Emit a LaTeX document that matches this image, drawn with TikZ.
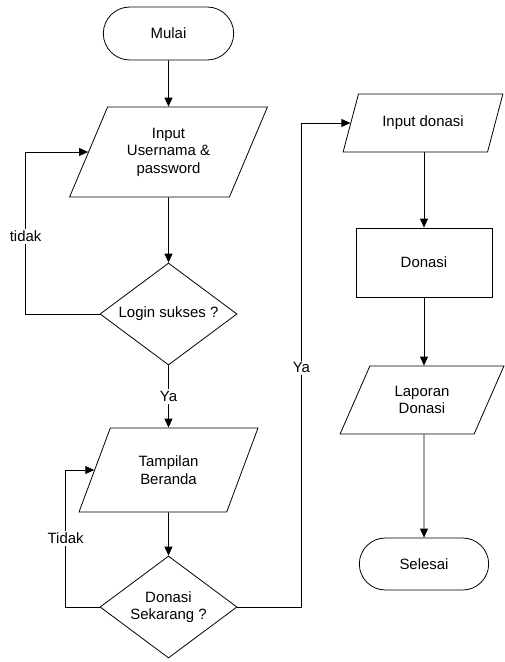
\documentclass[tikz,border=0pt]{standalone}
\usepackage{fontspec}
\setmainfont{Liberation Sans}
\usetikzlibrary{shapes.geometric,shapes.misc,arrows.meta}

\begin{document}
\begin{tikzpicture}[
		x=1bp,y=-1bp,
		every node/.style={
			font=\fontsize{15}{17.5}\selectfont,
			align=center,
		},
		term/.style={
			draw,
			rounded rectangle,
			minimum width=137bp,
			minimum height=53bp,
		},
		io/.style={
			draw,
			trapezium,
			trapezium left angle=63,
			trapezium right angle=117,
			trapezium stretches=true,
		},
		proc/.style={
			draw,
			rectangle,
			minimum width=136bp,
			minimum height=69bp,
		},
		dec/.style={
			draw,
			diamond,
			aspect=1.34,
			inner sep=1pt,
			minimum width=137bp,
			minimum height=102bp,
		},
		lbl/.style={
			fill=white,
			inner sep=2pt,
		},
		line width=0.8pt,
		>={Triangle[length=9pt,width=8pt]}
		]
		% left column
		\node[term] (mulai) at (168.5,33.5) {Mulai};
		\node[io, minimum width=198bp, minimum height=90bp] (login) at (168.5,152) {Input\\Usernama \&\\password};
		\node[dec] (cek) at (168.5,314) {Login sukses ?};
		\node[io, minimum width=179bp, minimum height=84bp] (beranda) at (168.5,470) {Tampilan\\Beranda};
		\node[dec] (tanya) at (168.5,607) {Donasi\\Sekarang ?};
		
		% right column
		\node[io, minimum width=160bp, minimum height=58bp] (input) at (423,123) {Input donasi};
		\node[proc] (donasi) at (424,262.5) {Donasi};
		\node[io, minimum width=164bp, minimum height=68bp] (laporan) at (422,400) {Laporan\\Donasi};
		\node[term, minimum width=136bp, minimum height=52bp] (selesai) at (424,564) {Selesai};
		
		\draw[->] (mulai) -- (login);
		\draw[->] (login) -- (cek);
		\draw[->] (cek) -- node[lbl]{Ya} (beranda);
		\draw[->] (beranda) -- (tanya);
		\draw[->] (cek.west) -- ++(-74,0) |- node[lbl, pos=0.24]{tidak} (login.left side);
		\draw[->] (tanya.west) -- ++(-34,0) |- node[lbl, pos=0.25]{Tidak} (beranda.left side);
		\draw[->] (tanya.east) -- ++(64,0) |- node[lbl, pos=0.247]{Ya} (input.left side);
		
		\draw[->] (input.south -| donasi.north) -- (donasi);
		\draw[->] (donasi) -- (laporan.north -| donasi.south);
		\draw[->] (laporan.south -| donasi.south) -- (selesai);
		
		\useasboundingbox (0,0) rectangle (504,662);
\end{tikzpicture}
\end{document}
